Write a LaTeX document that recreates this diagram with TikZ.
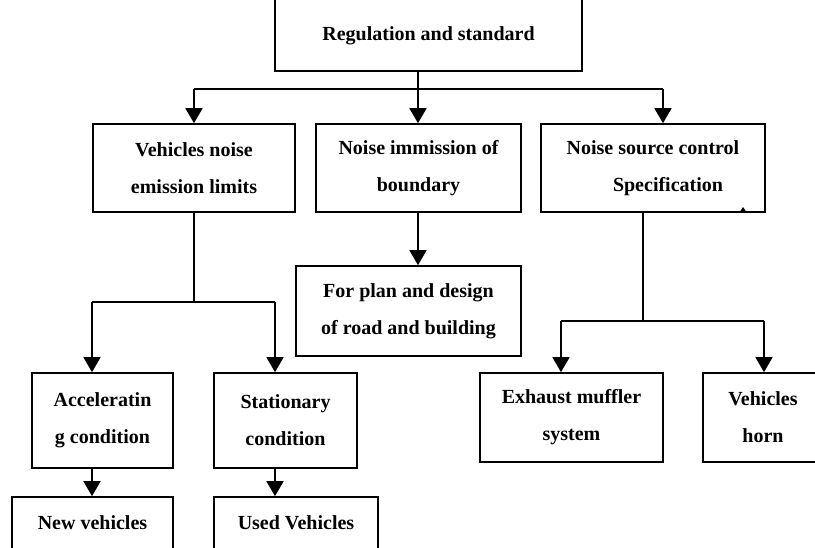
\documentclass[tikz,border=0pt]{standalone}
\usepackage{fontspec}
\setmainfont{Liberation Serif}
\usetikzlibrary{arrows.meta}
\begin{document}
\begin{tikzpicture}[x=1pt,y=-1pt,
  box/.style={draw, line width=1.6pt, inner sep=0pt, align=center,
    font=\fontsize{20}{37}\selectfont\bfseries},
  lbl/.style={inner sep=0pt, align=center, font=\fontsize{20}{37}\selectfont\bfseries},
  link/.style={line width=1.6pt},
  arr/.style={line width=1.6pt, -{Triangle[width=17pt,length=15pt]}}]
\clip (0,0) rectangle (815,548);
\fill[white] (0,0) rectangle (815,548);
% boxes
\node[box, minimum width=307pt, minimum height=100pt] (top) at (428.5,21) {};
\node[lbl] (toplbl) at (428.5,36) {Regulation and standard};
\node[box, minimum width=202pt, minimum height=88pt] (b1) at (194,168) {Vehicles noise\\emission limits};
\node[box, minimum width=205pt, minimum height=88pt] (b2) at (418.5,168) {Noise immission of\\boundary};
\node[box, minimum width=224pt, minimum height=88pt] (b3) at (653,168) {Noise source control\\\hspace*{30pt}Specification};
\node[box, minimum width=225pt, minimum height=90pt] (plan) at (408.5,311) {For plan and design\\of road and building};
\node[box, minimum width=141pt, minimum height=95pt] (acc) at (102.5,420.5) {Acceleratin\\g condition};
\node[box, minimum width=143pt, minimum height=95pt] (sta) at (285.5,420.5) {Stationary\\condition};
\node[box, minimum width=183pt, minimum height=89pt] (exh) at (571.5,417.5) {Exhaust muffler\\system};
\node[box, minimum width=120pt, minimum height=89pt] (horn) at (763,417.5) {Vehicles\\horn};
\node[box, minimum width=161pt, minimum height=60pt] (new) at (92.5,527) {};
\node[lbl] (newlbl) at (92.5,523) {New vehicles};
\node[box, minimum width=164pt, minimum height=60pt] (used) at (296,527) {};
\node[lbl] (usedlbl) at (296,523) {Used Vehicles};
% junction coordinates
\coordinate (j0) at (418,89);
\coordinate (jL) at (194,89);
\coordinate (jR) at (663,89);
\coordinate (j1) at (194,302);
\coordinate (j1L) at (92,302);
\coordinate (j1R) at (275,302);
\coordinate (j3) at (643,321);
\coordinate (j3L) at (561,321);
\coordinate (j3R) at (764,321);
\coordinate (mk) at (743,213);
% connectors
\draw[link] (top.south -| j0) -- (j0);
\draw[link] (jL) -- (jR);
\draw[arr] (jL) -- (jL |- b1.north);
\draw[arr] (j0) -- (j0 |- b2.north);
\draw[arr] (jR) -- (jR |- b3.north);
\draw[arr] (b2.south -| j0) -- (j0 |- plan.north);
\draw[link] (b1.south) -- (j1);
\draw[link] (j1L) -- (j1R);
\draw[arr] (j1L) -- (j1L |- acc.north);
\draw[arr] (j1R) -- (j1R |- sta.north);
\draw[link] (b3.south -| j3) -- (j3);
\draw[link] (j3L) -- (j3R);
\draw[arr] (j3L) -- (j3L |- exh.north);
\draw[arr] (j3R) -- (j3R |- horn.north);
\draw[arr] (acc.south -| j1L) -- (j1L |- new.north);
\draw[arr] (sta.south -| j1R) -- (j1R |- used.north);
% small stray mark under the Specification box
\fill ([xshift=-4pt]mk) -- ([xshift=4pt]mk) -- ([yshift=6pt]mk) -- cycle;
\end{tikzpicture}
\end{document}
